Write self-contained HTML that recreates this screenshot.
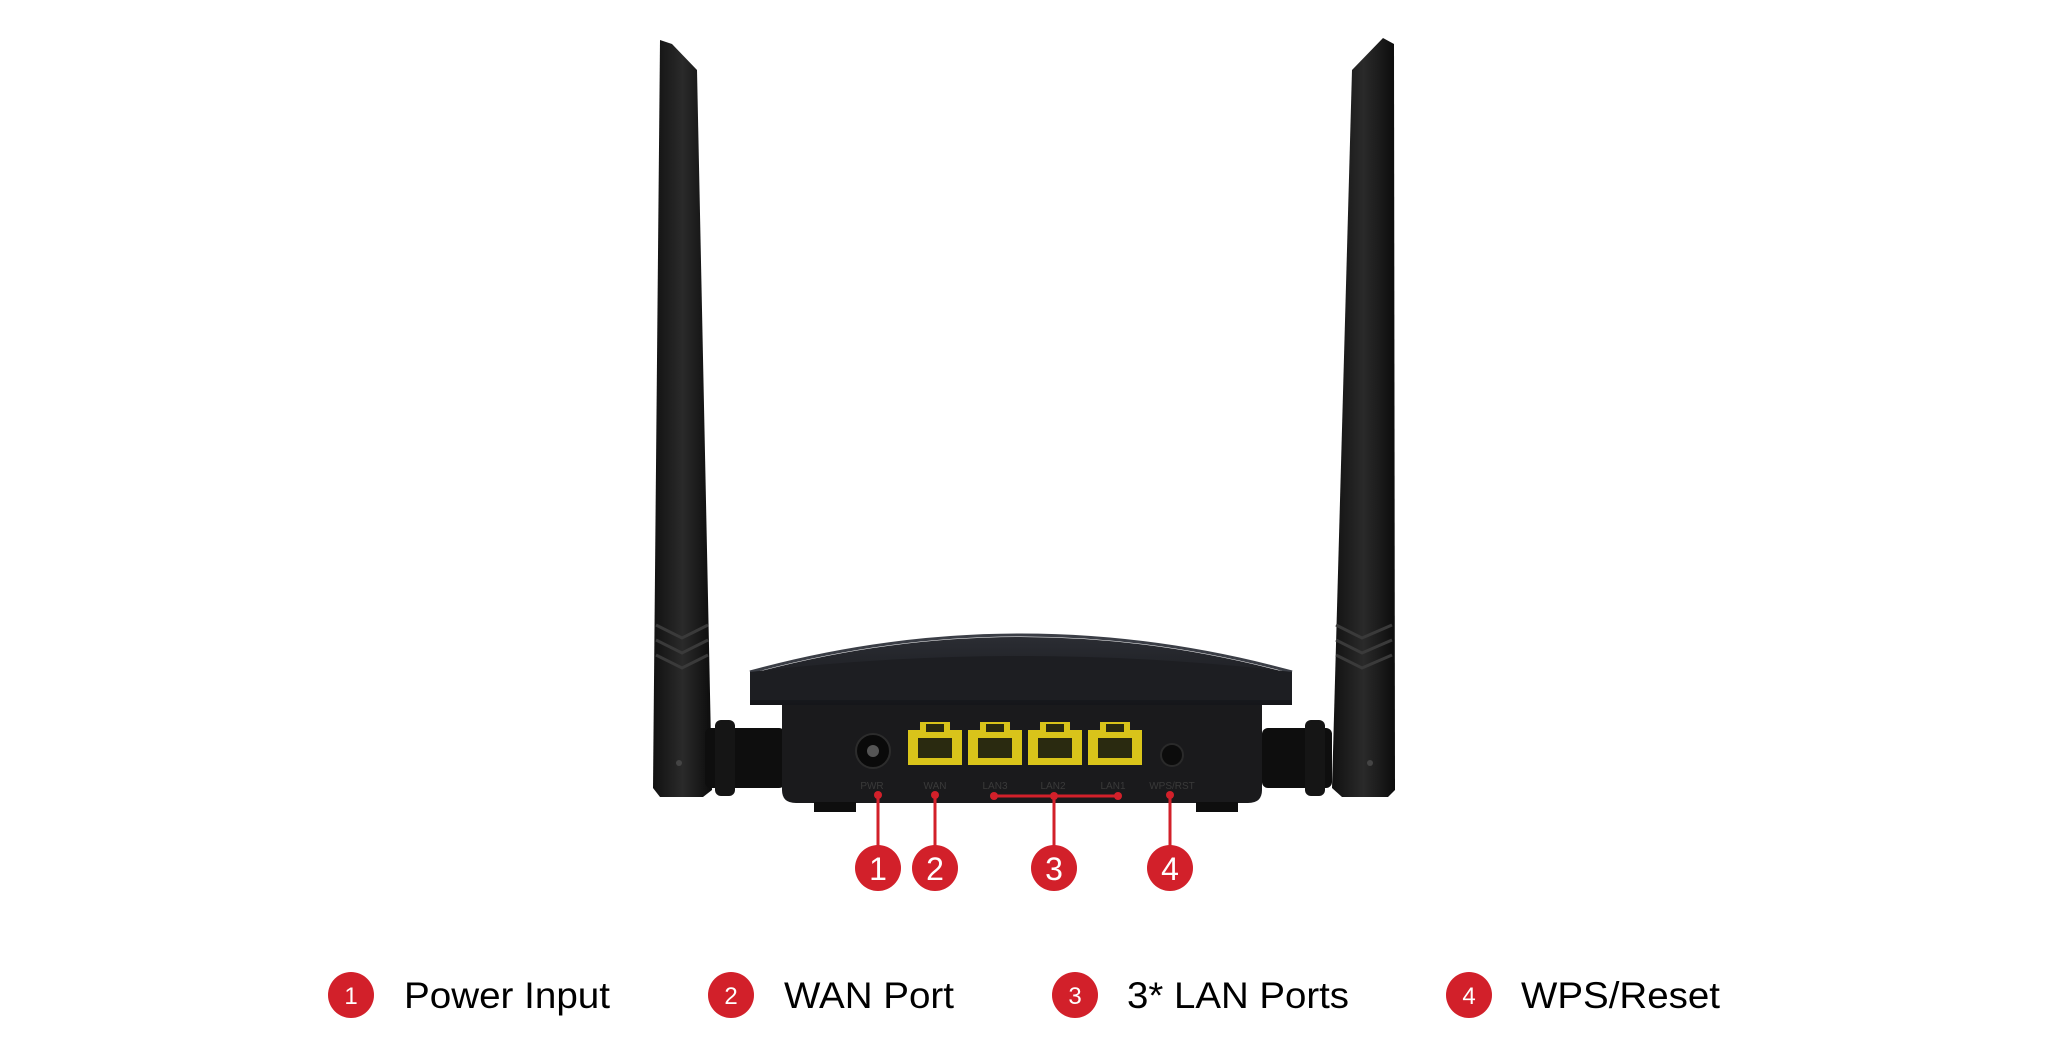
<!DOCTYPE html>
<html><head><meta charset="utf-8"><style>
html,body{margin:0;padding:0;background:#fff;}
svg{display:block;}
</style></head><body>
<svg width="2048" height="1053" viewBox="0 0 2048 1053" xmlns="http://www.w3.org/2000/svg">
<defs>
<linearGradient id="ant" x1="0" x2="1" y1="0" y2="0">
<stop offset="0" stop-color="#111"/><stop offset="0.5" stop-color="#2a2a2a"/><stop offset="1" stop-color="#0c0c0c"/>
</linearGradient>
<linearGradient id="top" x1="0" x2="0" y1="0" y2="1">
<stop offset="0" stop-color="#2b2d33"/><stop offset="1" stop-color="#15161a"/>
</linearGradient>
</defs>
<!-- left antenna -->
<polygon points="660,40 672,44 697,70 712,790 703,797 660,797 653,788" fill="url(#ant)"/>
<g stroke="#3a3a3a" stroke-width="3" fill="none">
<path d="M656,625 L682,638 L708,625"/><path d="M656,640 L682,653 L708,640"/><path d="M656,655 L682,668 L708,655"/>
</g>
<circle cx="679" cy="763" r="3" fill="#444"/>
<!-- right antenna -->
<polygon points="1383,38 1394,44 1395,790 1388,797 1342,797 1332,788 1352,70" fill="url(#ant)"/>
<g stroke="#3a3a3a" stroke-width="3" fill="none">
<path d="M1336,625 L1362,638 L1392,625"/><path d="M1336,640 L1362,653 L1392,640"/><path d="M1336,655 L1362,668 L1392,655"/>
</g>
<circle cx="1370" cy="763" r="3" fill="#444"/>
<!-- side connectors -->
<rect x="705" y="728" width="80" height="60" rx="6" fill="#0e0e0e"/>
<rect x="715" y="720" width="20" height="76" rx="6" fill="#151515"/>
<rect x="1262" y="728" width="70" height="60" rx="6" fill="#0e0e0e"/>
<rect x="1305" y="720" width="20" height="76" rx="6" fill="#151515"/>
<!-- body -->
<path d="M750,672 L750,674 Q1020,600 1292,674 L1292,705 L750,705 Z" fill="url(#top)"/>
<path d="M750,672 Q1020,598 1292,672" stroke="#3b3e46" stroke-width="3" fill="none"/>
<path d="M750,672 L750,700 L1292,700 L1292,672 Q1020,640 750,672 Z" fill="#1d1e22"/>
<path d="M782,705 L1262,705 L1262,790 Q1262,803 1248,803 L796,803 Q782,803 782,790 Z" fill="#1a1a1c"/>
<rect x="814" y="802" width="42" height="10" fill="#0e0e0e"/>
<rect x="1196" y="802" width="42" height="10" fill="#0e0e0e"/>
<!-- power jack -->
<circle cx="873" cy="751" r="17" fill="#0a0a0a" stroke="#2c2c2c" stroke-width="2"/>
<circle cx="873" cy="751" r="6" fill="#555"/>
<!-- ports -->
<g fill="#d9c41a">
<rect x="908" y="730" width="54" height="35"/><rect x="920" y="722" width="30" height="10"/>
<rect x="968" y="730" width="54" height="35"/><rect x="980" y="722" width="30" height="10"/>
<rect x="1028" y="730" width="54" height="35"/><rect x="1040" y="722" width="30" height="10"/>
<rect x="1088" y="730" width="54" height="35"/><rect x="1100" y="722" width="30" height="10"/>
</g>
<g fill="#2a2a10">
<rect x="918" y="738" width="34" height="20"/><rect x="978" y="738" width="34" height="20"/>
<rect x="1038" y="738" width="34" height="20"/><rect x="1098" y="738" width="34" height="20"/>
<rect x="926" y="724" width="18" height="8"/><rect x="986" y="724" width="18" height="8"/>
<rect x="1046" y="724" width="18" height="8"/><rect x="1106" y="724" width="18" height="8"/>
</g>
<circle cx="1172" cy="755" r="11" fill="#0c0c0c" stroke="#2a2a2a" stroke-width="2"/>
<!-- tiny labels -->
<g fill="#3a3a3a" font-family="Liberation Sans, sans-serif" font-size="10" text-anchor="middle">
<text x="872" y="789">PWR</text><text x="935" y="789">WAN</text><text x="995" y="789">LAN3</text>
<text x="1053" y="789">LAN2</text><text x="1113" y="789">LAN1</text><text x="1172" y="789">WPS/RST</text>
</g>
<!-- callout lines -->
<g stroke="#d2202a" stroke-width="3" fill="#d2202a">
<line x1="878" y1="795" x2="878" y2="850"/>
<line x1="935" y1="795" x2="935" y2="850"/>
<line x1="994" y1="796" x2="1118" y2="796"/>
<line x1="1054" y1="796" x2="1054" y2="850"/>
<line x1="1170" y1="795" x2="1170" y2="850"/>
</g>
<g fill="#d2202a">
<circle cx="878" cy="795" r="4"/><circle cx="935" cy="795" r="4"/><circle cx="994" cy="796" r="4"/>
<circle cx="1054" cy="796" r="4"/><circle cx="1118" cy="796" r="4"/><circle cx="1170" cy="795" r="4"/>
<circle cx="878" cy="868" r="23"/><circle cx="935" cy="868" r="23"/>
<circle cx="1054" cy="868" r="23"/><circle cx="1170" cy="868" r="23"/>
<circle cx="351" cy="995" r="23"/><circle cx="731" cy="995" r="23"/>
<circle cx="1075" cy="995" r="23"/><circle cx="1469" cy="995" r="23"/>
</g>
<g fill="#fff" font-family="Liberation Sans, sans-serif" text-anchor="middle">
<text x="878" y="880" font-size="32">1</text><text x="935" y="880" font-size="32">2</text>
<text x="1054" y="880" font-size="32">3</text><text x="1170" y="880" font-size="32">4</text>
<text x="351" y="1004" font-size="24">1</text><text x="731" y="1004" font-size="24">2</text>
<text x="1075" y="1004" font-size="24">3</text><text x="1469" y="1004" font-size="24">4</text>
</g>
<g fill="#000" font-family="Liberation Sans, sans-serif" font-size="37">
<text x="404" y="1008" textLength="206" lengthAdjust="spacingAndGlyphs">Power Input</text>
<text x="784" y="1008" textLength="170" lengthAdjust="spacingAndGlyphs">WAN Port</text>
<text x="1127" y="1008" textLength="222" lengthAdjust="spacingAndGlyphs">3* LAN Ports</text>
<text x="1521" y="1008" textLength="199" lengthAdjust="spacingAndGlyphs">WPS/Reset</text>
</g>
</svg>
</body></html>
